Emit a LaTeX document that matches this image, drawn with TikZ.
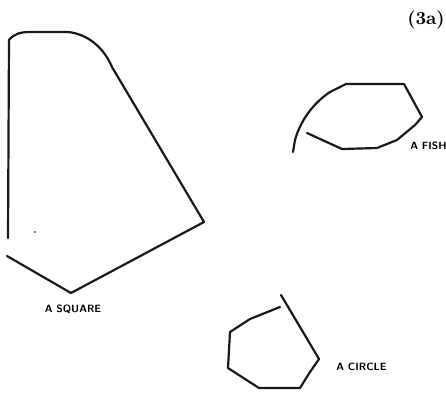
\documentclass[tikz,border=0pt]{standalone}
\usepackage{tikz}
\usetikzlibrary{positioning}

\begin{document}
\begin{tikzpicture}[
    x=0.02cm, y=-0.02cm,
    % ── Stroke and label styles ──
    outline/.style={line width=1.25pt, black!90, line join=round, line cap=round},
    caption/.style={font=\fontsize{6}{7}\selectfont\sffamily\bfseries, inner sep=0pt},
    figtag/.style={font=\fontsize{10.5}{12}\selectfont\bfseries, inner sep=0pt}
]
\useasboundingbox (0,0) rectangle (446,393);

% ═══ Square (drawn as a rounded wedge) ═══
\draw[outline] (8,238) -- (9,40) .. controls (14,34) and (20,32) .. (30,32)
  -- (68,32) .. controls (88,34) and (104,48) .. (112,67) -- (204,222) -- (71,293) -- (7,256);
\fill (35,232) circle (0.8);

% ═══ Fish ═══
\draw[outline] (293,152) -- (295,140) .. controls (300,122) and (312,104) .. (330,92)
  -- (346,84) -- (404,84) -- (422,117) -- (415,125) -- (397,140) -- (377,148)
  -- (342,149) -- (307,133);

% ═══ Circle ═══
\draw[outline] (281,295) -- (319,359) -- (310,372) -- (300,388) -- (259,388)
  -- (228,368) -- (230,332) -- (250,319) -- (280,307);

% ═══ Labels ═══
\node[figtag]  (tag)    at (426,20)  {(3a)};
\node[caption] (sqlbl)  at (73,309)  {A SQUARE};
\node[caption, anchor=west] (fishlbl) at (410,146) {A FISH};
\node[caption, anchor=west] (circlbl) at (336,367) {A CIRCLE};

\end{tikzpicture}
\end{document}
